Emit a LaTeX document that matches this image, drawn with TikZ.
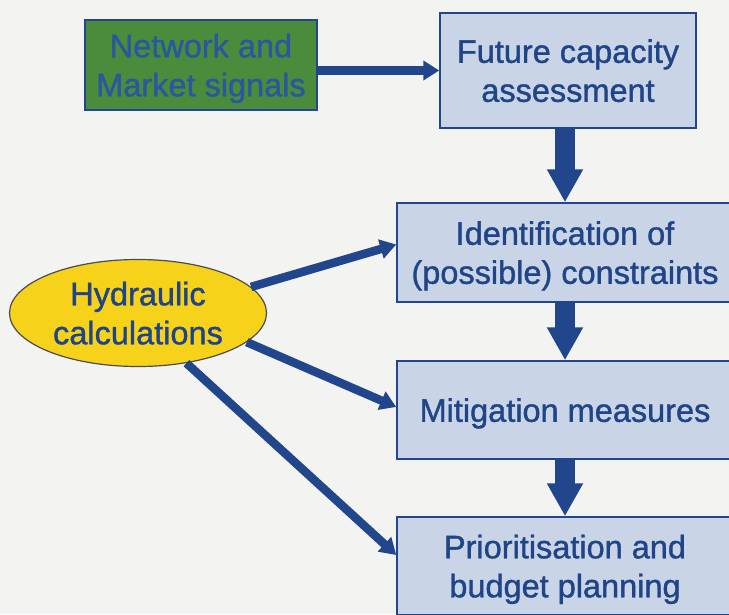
\documentclass[tikz,border=0pt]{standalone}
\usepackage{fontspec}
\setmainfont{Liberation Sans}
\usetikzlibrary{arrows.meta,shapes.geometric,calc}
\definecolor{paper}{HTML}{F3F3F1}
\definecolor{navy}{HTML}{21468C}
\definecolor{textblue}{HTML}{1F4588}
\definecolor{boxfill}{HTML}{C9D5E6}
\definecolor{signalgreen}{HTML}{4A8C3C}
\definecolor{signaltext}{HTML}{2A58A0}
\definecolor{hydyellow}{HTML}{F6D31A}
\tikzset{
  label text/.style={font=\fontsize{32.5}{39}\selectfont\addfontfeatures{FakeBold=1.2},
                     align=center, text=textblue, text depth=0pt},
  stage/.style={label text, rectangle, draw=navy, line width=1.5pt, fill=boxfill,
                inner sep=0pt},
  signalbox/.style={stage, fill=signalgreen, text=signaltext},
  calcnode/.style={label text, ellipse, draw=black!70, line width=1.2pt, fill=hydyellow,
                   inner sep=0pt},
  flow/.style={navy, line width=20pt, -{Triangle[width=34pt,length=33pt]}},
  feed/.style={navy, line width=8.5pt, -{Triangle[width=19pt,length=16pt]}},
}
\begin{document}
\begin{tikzpicture}[x=1pt,y=-1pt]
  \fill[paper] (0,0) rectangle (729,614);
  \useasboundingbox (0,0) rectangle (729,614);

  % stages of the planning process
  \node[signalbox, minimum width=232pt, minimum height=90pt, text depth=-3pt] (net) at (201,65)
    {Network and\\Market signals};
  \node[stage, minimum width=256pt, minimum height=115pt, text depth=-7pt] (fut) at (568,70.5)
    {Future capacity\\assessment};
  \node[stage, minimum width=336pt, minimum height=99pt] (ident) at (565,252.5)
    {Identification of\\(possible) constraints};
  \node[stage, minimum width=336pt, minimum height=98pt] (mitig) at (565,410)
    {Mitigation measures};
  \node[stage, minimum width=336pt, minimum height=98pt] (prio) at (565,566)
    {Prioritisation and\\budget planning};
  \node[calcnode, minimum width=257pt, minimum height=107pt, text depth=-4pt] (hyd) at (138,313)
    {Hydraulic\\calculations};

  % signal input
  \draw[feed] (net.east |- fut.west) -- (fut.west);

  % main sequence
  \draw[flow] (fut.south -| ident.north) -- (ident.north);
  \draw[flow] (ident.south) -- (mitig.north);
  \draw[flow] (mitig.south) -- (prio.north);

  % hydraulic calculations feed three stages
  \draw[feed] (hyd.13) -- ($(ident.west)+(0,-8)$);
  \draw[feed] (hyd.-15) -- ($(mitig.west)+(0,-3)$);
  \draw[feed] (hyd.-46) -- ($(prio.west)+(0,-11)$);
\end{tikzpicture}
\end{document}
